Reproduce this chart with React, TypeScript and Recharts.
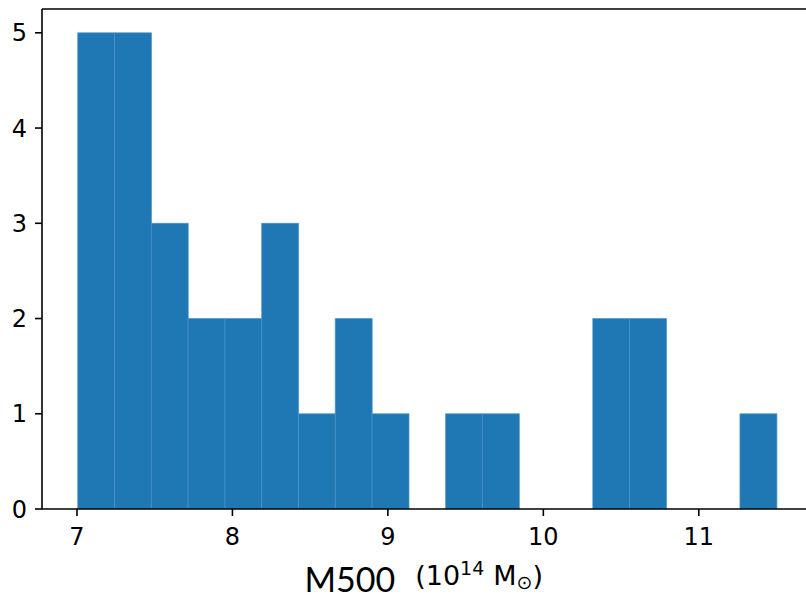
import React from 'react'
import { Bar, BarChart, ReferenceLine, XAxis, YAxis } from 'recharts'

// histogram of M500 (10^14 Msun), 19 bins between 7.0 and 11.5
const binLeft = [7.0, 7.24, 7.47, 7.71, 7.95, 8.18, 8.42, 8.66, 8.89, 9.13, 9.37, 9.61, 9.84, 10.08, 10.32, 10.55, 10.79, 11.03, 11.26]
const counts = [5, 5, 3, 2, 2, 3, 1, 2, 1, 0, 1, 1, 0, 0, 2, 2, 0, 0, 1]
const xTicks = [7, 8, 9, 10, 11]
const yTicks = [0, 1, 2, 3, 4, 5]
const xDomain = [6.775, 11.725]
const yMax = 5.25

const data = binLeft.map((b, i) => ({ bin: b, count: counts[i] }))

const tickFont = { fontFamily: 'DejaVu Sans', fontSize: 24, fill: '#000' }

const XLabel = (props: any) => {
    const vb = props.viewBox || {}
    const cx = (vb.x || 0) + (vb.width || 0) / 2
    return (
        <text x={cx - 3} y={592} textAnchor="middle" fill="#000" fontFamily="DejaVu Sans">
            <tspan fontFamily="Lato" fontSize={34}>M500</tspan>
            <tspan dx={20} dy={-7} fontSize={27}>(10</tspan>
            <tspan dy={-10} fontSize={19}>14</tspan>
            <tspan dx={9} dy={10} fontSize={27}>M</tspan>
            <tspan dy={4} fontSize={19}>⊙</tspan>
            <tspan dy={-4} fontSize={27}>)</tspan>
        </text>
    )
}

const App = () => {
    return (
        <div style={{ position: 'fixed', left: 0, top: 0, width: 806, height: 600, overflow: 'hidden', background: '#fff' }}>
            <BarChart width={830} height={600} data={data} barCategoryGap={0} barGap={0}
                margin={{ top: 9, right: 18.5, left: 0, bottom: 0 }}>
                <XAxis xAxisId="bins" dataKey="bin" hide height={0} orientation="top"
                    padding={{ left: 35.7, right: 34.8 }} />
                <XAxis xAxisId="m" dataKey="bin" type="number" domain={xDomain} ticks={xTicks} allowDataOverflow
                    height={91} tickSize={7} tickMargin={12} tick={tickFont}
                    axisLine={{ stroke: '#000', strokeWidth: 1.6 }} tickLine={{ stroke: '#000', strokeWidth: 1.6 }}
                    label={{ content: (p: any) => <XLabel {...p} /> }} />
                <YAxis width={42} domain={[0, yMax]} ticks={yTicks} allowDataOverflow
                    tickSize={7} tickMargin={8} tick={tickFont}
                    axisLine={{ stroke: '#000', strokeWidth: 1.6 }} tickLine={{ stroke: '#000', strokeWidth: 1.6 }} />
                <ReferenceLine y={yMax} stroke="#000" strokeWidth={1.6} xAxisId="m" />
                <Bar dataKey="count" xAxisId="bins" fill="#1f77b4" stroke="#4f95c9" strokeWidth={0.7}
                    isAnimationActive={false} />
            </BarChart>
        </div>
    )
}

export default App
